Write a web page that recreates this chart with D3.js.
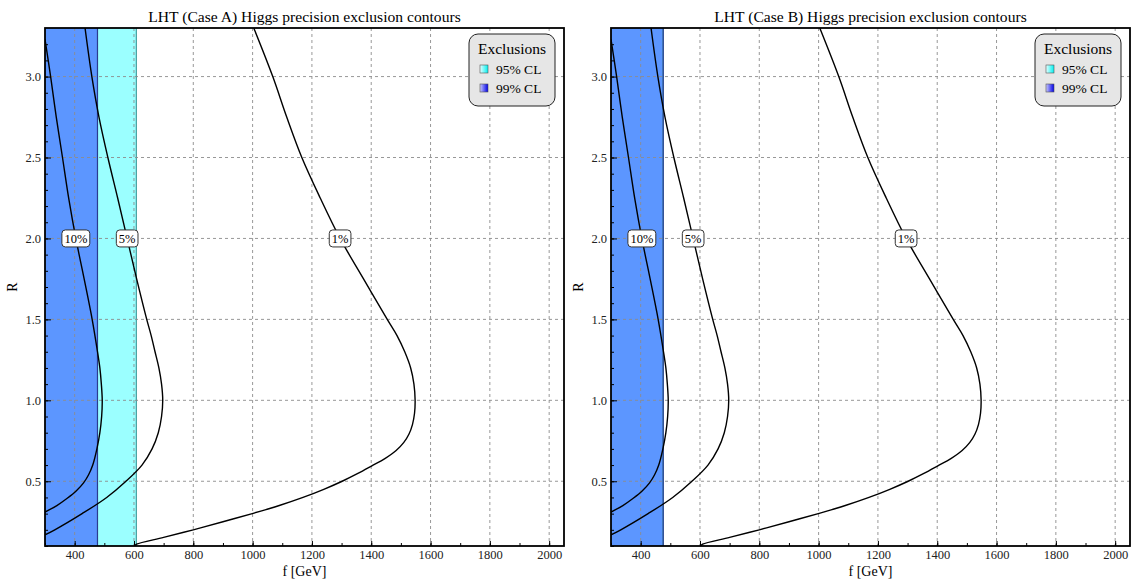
<!DOCTYPE html>
<html lang="en">
<head>
<meta charset="UTF-8">
<title>LHT Higgs precision exclusion contours</title>
<script src="https://d3js.org/d3.v7.min.js"></script>
<style>
  body { margin: 0; background: #fff; }
  svg { display: block; font-family: "Liberation Serif", "DejaVu Serif", serif; }
  .grid line { stroke: #8c8c8c; stroke-dasharray: 3, 3; stroke-width: 0.9; }
  .axis path { display: none; }
  .axis line { stroke: #000; stroke-width: 1; }
  .axis text { font-size: 12.5px; fill: #222; font-family: "Liberation Serif", serif; }
</style>
</head>
<body>
<svg id="chart" width="1131" height="579"></svg>
<script>
// ---- data ----
const fTicks = [400, 600, 800, 1000, 1200, 1400, 1600, 1800, 2000];
const fMinor = d3.range(300, 2050, 100);
const rTicks = [0.5, 1.0, 1.5, 2.0, 2.5, 3.0];
const rMinor = d3.range(0.1, 3.3, 0.1);

// contour lines [f (GeV), R], upper branch first
const contour10 = [[300, 3.23], [319, 3.0], [338, 2.75], [359, 2.5], [381, 2.236], [404, 2.0], [432, 1.75],
  [459, 1.5], [477, 1.3], [485, 1.2], [490, 1.1], [493, 1.0], [491, 0.9], [485, 0.8], [475, 0.7],
  [461, 0.6], [447, 0.54], [430, 0.49], [405, 0.44], [375, 0.395], [340, 0.35], [300, 0.31]];
const contour5 = [[435, 3.3], [458, 3.0], [482, 2.75], [512, 2.5], [545, 2.25], [577, 2.0], [609, 1.75],
  [643, 1.5], [658, 1.4], [671, 1.3], [684, 1.2], [693, 1.1], [697, 1.0], [693, 0.9], [682, 0.8],
  [661, 0.7], [627, 0.6], [573, 0.5], [508, 0.4], [425, 0.3], [333, 0.2], [300, 0.169]];
const contour1 = [[1004, 3.3], [1068, 3.0], [1115, 2.75], [1166, 2.5], [1228, 2.25], [1295, 2.0], [1374, 1.75],
  [1454, 1.5], [1487, 1.4], [1513, 1.3], [1533, 1.2], [1544, 1.1], [1548, 1.0], [1546, 0.92], [1539, 0.85],
  [1527, 0.79], [1510, 0.74], [1484, 0.69], [1446, 0.64], [1402, 0.595], [1355, 0.548], [1302, 0.5],
  [1240, 0.45], [1170, 0.4], [1090, 0.35], [1045, 0.325], [1002, 0.302], [900, 0.25], [800, 0.2],
  [700, 0.153], [609, 0.111], [603, 0.1]];
const contourNames = ["10%", "5%", "1%"];
const labelR = 2.0;

// exclusion bands: f from 300 up to fMax
const bandsA = [{ cl: "95% CL", fMax: 608 }, { cl: "99% CL", fMax: 477 }];
const bandsB = [{ cl: "95% CL", fMax: 476 }, { cl: "99% CL", fMax: 476 }];
const legendItems = ["95% CL", "99% CL"];

const titles = ["LHT (Case A) Higgs precision exclusion contours", "LHT (Case B) Higgs precision exclusion contours"];

const bandStyle = {
  "95% CL": { fill: "#9bffff", edge: "#3f9f9f" },
  "99% CL": { fill: "#5c96ff", edge: "#2b3b8f" }
};

const svg = d3.select("#chart");
const defs = svg.append("defs");
function grad(id, c0, c1) {
  const g = defs.append("linearGradient").attr("id", id);
  g.append("stop").attr("offset", "0%").attr("stop-color", c0);
  g.append("stop").attr("offset", "100%").attr("stop-color", c1);
}
grad("g95", "#e6ffff", "#00f0f0");
grad("g99", "#c8c8ff", "#0000e6");

const W = 519, H = 518, plotTop = 28;

function drawPanel(left, title, bands, id) {
  const x = d3.scaleLinear().domain([300, 2050]).range([left, left + W]);
  const y = d3.scaleLinear().domain([0.1, 3.3]).range([plotTop + H, plotTop]);
  const g = svg.append("g");

  defs.append("clipPath").attr("id", "clip" + id)
    .append("rect").attr("x", left).attr("y", plotTop).attr("width", W).attr("height", H);

  const plot = g.append("g").attr("clip-path", `url(#clip${id})`);

  // bands
  plot.selectAll("rect.band").data(bands).enter().append("rect")
    .attr("class", "band")
    .attr("x", x(300)).attr("y", plotTop)
    .attr("width", d => x(d.fMax) - x(300)).attr("height", H)
    .attr("fill", d => bandStyle[d.cl].fill);
  plot.selectAll("line.edge").data(bands).enter().append("line")
    .attr("class", "edge")
    .attr("x1", d => x(d.fMax)).attr("x2", d => x(d.fMax))
    .attr("y1", plotTop).attr("y2", plotTop + H)
    .attr("stroke", d => bandStyle[d.cl].edge).attr("stroke-width", 1.2);

  // grid
  const grid = plot.append("g").attr("class", "grid");
  grid.selectAll("line.v").data(fTicks).enter().append("line")
    .attr("x1", d => x(d)).attr("x2", d => x(d)).attr("y1", plotTop).attr("y2", plotTop + H);
  grid.selectAll("line.h").data(rTicks).enter().append("line")
    .attr("y1", d => y(d)).attr("y2", d => y(d)).attr("x1", left).attr("x2", left + W);

  // contours
  const line = d3.line().x(d => x(d[0])).y(d => y(d[1])).curve(d3.curveCatmullRom.alpha(0.5));
  const contours = [contour10, contour5, contour1];
  plot.selectAll("path.contour").data(contours).enter().append("path")
    .attr("class", "contour")
    .attr("d", line).attr("fill", "none").attr("stroke", "#000").attr("stroke-width", 1.4);

  // contour labels at R = labelR on the upper branch
  contours.forEach((pts, i) => {
    let fl = pts[0][0];
    for (let k = 0; k < pts.length - 1; k++) {
      const a = pts[k], b = pts[k + 1];
      if (a[1] >= labelR && b[1] <= labelR) {
        fl = a[0] + (b[0] - a[0]) * (a[1] - labelR) / (a[1] - b[1]);
        break;
      }
    }
    const lg = g.append("g").attr("transform", `translate(${x(fl)},${y(labelR)})`);
    const txt = lg.append("text").attr("text-anchor", "middle").attr("dy", "0.35em")
      .attr("font-size", 12.5).text(contourNames[i]);
    const w = txt.node().getComputedTextLength() + 5;
    lg.insert("rect", "text").attr("x", -w / 2).attr("y", -8.5).attr("width", w).attr("height", 17)
      .attr("rx", 3.5).attr("fill", "#fff").attr("stroke", "#333").attr("stroke-width", 1);
  });

  // axes (ticks inward)
  g.append("g").attr("class", "axis").attr("transform", `translate(0,${plotTop + H})`)
    .call(d3.axisBottom(x).tickValues(fMinor).tickSize(-3).tickFormat(""));
  g.append("g").attr("class", "axis").attr("transform", `translate(0,${plotTop + H})`)
    .call(d3.axisBottom(x).tickValues(fTicks).tickSizeInner(-5).tickSizeOuter(0).tickPadding(4).tickFormat(d3.format("d")));
  g.append("g").attr("class", "axis").attr("transform", `translate(${left},0)`)
    .call(d3.axisLeft(y).tickValues(rMinor).tickSize(-3).tickFormat(""));
  g.append("g").attr("class", "axis").attr("transform", `translate(${left},0)`)
    .call(d3.axisLeft(y).tickValues(rTicks).tickSizeInner(-6).tickSizeOuter(0).tickPadding(4).tickFormat(d3.format(".1f")));

  // frame
  g.append("rect").attr("x", left).attr("y", plotTop).attr("width", W).attr("height", H)
    .attr("fill", "none").attr("stroke", "#000").attr("stroke-width", 1.8);

  // title and axis labels
  g.append("text").attr("x", left + W / 2).attr("y", 22).attr("text-anchor", "middle")
    .attr("font-size", 15.6).text(title);
  g.append("text").attr("x", left + W / 2).attr("y", 576).attr("text-anchor", "middle")
    .attr("font-size", 14).text("f [GeV]");
  g.append("text").attr("transform", `translate(${left - 28},${plotTop + H / 2}) rotate(-90)`)
    .attr("text-anchor", "middle").attr("font-size", 14).text("R");

  // legend
  const lx = left + W - 95, ly = 34;
  const leg = g.append("g").attr("transform", `translate(${lx},${ly})`);
  leg.append("rect").attr("width", 86).attr("height", 72).attr("rx", 9)
    .attr("fill", "#e6e6e6").attr("stroke", "#222").attr("stroke-width", 1);
  leg.append("text").attr("x", 43).attr("y", 20).attr("text-anchor", "middle")
    .attr("font-size", 15.5).text("Exclusions");
  legendItems.forEach((d, i) => {
    leg.append("rect").attr("x", 11).attr("y", 31 + i * 19).attr("width", 8).attr("height", 8)
      .attr("fill", i === 0 ? "url(#g95)" : "url(#g99)").attr("stroke", "#555").attr("stroke-width", 0.6);
    leg.append("text").attr("x", 27).attr("y", 40 + i * 19).attr("font-size", 13.5).text(d);
  });
}

drawPanel(45, titles[0], bandsA, "A");
drawPanel(611, titles[1], bandsB, "B");
</script>
</body>
</html>
